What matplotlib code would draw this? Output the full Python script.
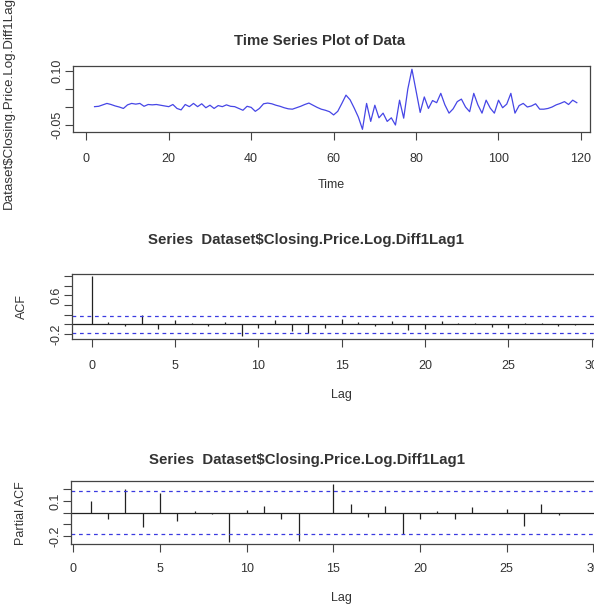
import numpy as np
import matplotlib
matplotlib.use("Agg")
import matplotlib.pyplot as plt
import matplotlib.transforms as mtransforms

plt.rcParams['font.family'] = ['Liberation Sans', 'DejaVu Sans']

# series: Dataset$Closing.Price.Log.Diff1Lag1 (t = 2..119)
time = np.arange(2, 120)
log_diff = [
    0.001, 0.002, 0.006, 0.010, 0.007, 0.003, 0.000, -0.004, 0.006, 0.010,
    0.008, 0.010, 0.002, 0.007, 0.006, 0.007, 0.005, 0.003, 0.001, 0.007,
    -0.004, -0.008, 0.007, 0.001, 0.010, 0.001, 0.009, -0.002, 0.005, -0.004,
    0.004, 0.001, 0.006, 0.002, 0.001, -0.004, -0.009, 0.002, -0.001, -0.012,
    -0.004, 0.009, 0.011, 0.009, 0.005, 0.002, -0.002, -0.005, -0.006, -0.002,
    0.002, 0.007, 0.011, 0.005, -0.001, -0.006, -0.009, -0.013, -0.022, -0.012,
    0.010, 0.033, 0.020, -0.003, -0.028, -0.062, 0.010, -0.040, 0.005, -0.030,
    -0.017, -0.040, -0.030, -0.050, 0.019, -0.031, 0.050, 0.105, 0.045, -0.015,
    0.028, -0.004, 0.018, 0.012, 0.038, 0.006, -0.017, -0.005, 0.015, 0.022,
    0.000, -0.013, 0.038, 0.006, -0.017, 0.019, -0.003, -0.017, 0.019, -0.002,
    0.008, 0.038, -0.017, 0.004, 0.010, 0.000, 0.003, 0.009, -0.006, -0.006,
    -0.004, 0.000, 0.006, 0.010, 0.015, 0.007, 0.019, 0.012,
]

acf_lags = np.arange(0, 31)
acf_vals = [1.0, 0.06, -0.03, 0.19, -0.10, 0.09, 0.02, -0.03, 0.06, -0.24,
            -0.08, 0.09, -0.13, -0.17, -0.08, 0.11, 0.06, -0.03, 0.07, -0.12,
            -0.10, 0.07, 0.02, 0.04, -0.06, -0.08, 0.04, 0.02, -0.03, -0.01, 0.0]

pacf_lags = np.arange(1, 31)
pacf_vals = [0.10, -0.05, 0.20, -0.12, 0.17, -0.07, 0.01, -0.01, -0.25, 0.02,
             0.06, -0.05, -0.24, -0.005, 0.245, 0.07, -0.04, 0.055, -0.18, -0.05,
             0.01, -0.055, 0.047, 0.0, 0.03, -0.115, 0.074, -0.02, 0.0, 0.0]

n_obs = 118
clim = 1.96 / np.sqrt(n_obs)

W, H = 594, 607
fig = plt.figure(figsize=(W / 100, H / 100), dpi=100)

def px_axes(left, top, right, bottom):
    return fig.add_axes([left / W, 1 - bottom / H, (right - left) / W, (bottom - top) / H])

ink = '#333333'
title_size = 10.8
text_size = 9

def r_style(ax, ylab_x, xpad=8):
    for s in ax.spines.values():
        s.set_color('#444444')
        s.set_linewidth(0.9)
    ax.tick_params(direction='out', length=5.5, width=0.8, color='#444444',
                   labelsize=text_size, labelcolor=ink, pad=xpad)
    ax.tick_params(axis='y', pad=1)
    for lab in ax.get_yticklabels():
        lab.set_rotation(90)
        lab.set_va('center')
    tr = mtransforms.blended_transform_factory(fig.transFigure, ax.transAxes)
    ax.yaxis.set_label_coords(ylab_x / W, 0.5, transform=tr)

# --- time series panel
ax1 = px_axes(72.7, 66, 590, 131.7)
ax1.plot(time, log_diff, color='#4646e6', lw=0.9)
ax1.set_xlim(-3.3, 122.2)
ax1.set_ylim(-0.0686, 0.114)
ax1.set_xticks(np.arange(0, 121, 20))
ax1.set_yticks([0.10, 0.05, 0.0, -0.05])
ax1.set_yticklabels(['0.10', '', '', '-0.05'])
ax1.set_title('Time Series Plot of Data', fontsize=title_size, fontweight='bold',
              color=ink, pad=15, x=0.478)
ax1.set_xlabel('Time', fontsize=text_size, color=ink, labelpad=10)
ax1.set_ylabel('Dataset\\$Closing.Price.Log.Diff1Lag1', fontsize=9.6, color=ink)
r_style(ax1, 15, xpad=10)

# --- ACF panel
ax2 = px_axes(71.7, 273.6, 611.8, 338.5)
ax2.vlines(acf_lags, 0, acf_vals, color='#222222', lw=0.9)
ax2.axhline(0, color='#222222', lw=0.9)
for c in (clim, -clim):
    ax2.axhline(c, color='#3a3ae0', lw=0.9, dashes=(3, 3))
ax2.set_xlim(-1.2, 31.2)
ax2.set_ylim(-0.29, 1.05)
ax2.set_xticks(np.arange(0, 31, 5))
ax2.set_yticks([-0.2, 0.0, 0.2, 0.4, 0.6, 0.8, 1.0])
ax2.set_yticklabels(['-0.2', '', '', '', '0.6', '', ''])
ax2.set_title('Series  Dataset\\$Closing.Price.Log.Diff1Lag1', fontsize=title_size,
              fontweight='bold', color=ink, pad=21, x=0.434)
ax2.set_xlabel('Lag', fontsize=text_size, color=ink, labelpad=12)
ax2.set_ylabel('ACF', fontsize=text_size, color=ink)
r_style(ax2, 28, xpad=10)

# --- PACF panel
ax3 = px_axes(70.5, 481, 613.3, 544.3)
ax3.vlines(pacf_lags, 0, pacf_vals, color='#222222', lw=0.9)
ax3.axhline(0, color='#222222', lw=0.9)
for c in (clim, -clim):
    ax3.axhline(c, color='#3a3ae0', lw=0.9, dashes=(3, 3))
ax3.set_xlim(-0.16, 31.16)
ax3.set_ylim(-0.27, 0.27)
ax3.set_xticks(np.arange(0, 31, 5))
ax3.set_yticks([-0.2, -0.1, 0.0, 0.1, 0.2])
ax3.set_yticklabels(['-0.2', '', '', '0.1', ''])
ax3.set_title('Series  Dataset\\$Closing.Price.Log.Diff1Lag1', fontsize=title_size,
              fontweight='bold', color=ink, pad=12, x=0.436)
ax3.set_xlabel('Lag', fontsize=text_size, color=ink, labelpad=12)
ax3.set_ylabel('Partial ACF', fontsize=text_size, color=ink)
r_style(ax3, 27)

fig.savefig('out.png', dpi=100, facecolor='white')
